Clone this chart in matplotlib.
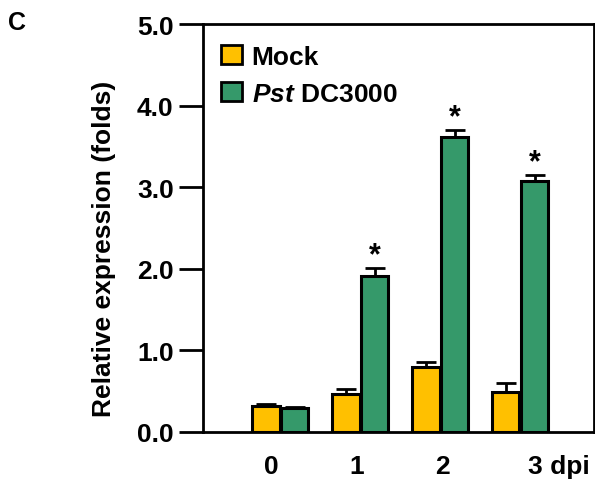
import numpy as np
import matplotlib
matplotlib.use('Agg')
from matplotlib import pyplot as plt
from matplotlib.patches import Patch

# data
days = ['0', '1', '2', '3 dpi']
mock = [0.32, 0.47, 0.80, 0.49]
mock_err = [0.02, 0.06, 0.06, 0.11]
pst = [0.29, 1.91, 3.61, 3.08]
pst_err = [0.02, 0.10, 0.09, 0.07]
signif = [False, True, True, True]

plt.rcParams['font.family'] = ['Liberation Sans', 'DejaVu Sans']
plt.rcParams['font.weight'] = 'bold'
plt.rcParams['mathtext.fontset'] = 'custom'
plt.rcParams['mathtext.bf'] = 'Liberation Sans:bold'
plt.rcParams['mathtext.bfit'] = 'Liberation Sans:bold:italic'
plt.rcParams['mathtext.it'] = 'Liberation Sans:italic'

yellow = '#FFC000'
green = '#35996A'
fs = 19

fig = plt.figure(figsize=(5.95, 4.81), dpi=100)
ax = fig.add_axes([0.341, 0.1, 0.657, 0.848])

x = np.arange(len(days))
w = 0.34
off = 0.18
ax.bar(x - off, mock, w, color=yellow, edgecolor='black', linewidth=2.2, zorder=3)
ax.bar(x + off, pst, w, color=green, edgecolor='black', linewidth=2.2, zorder=3)

ax.errorbar(x - off, mock, yerr=[np.zeros(len(mock)), mock_err], fmt='none',
            ecolor='black', elinewidth=2, capsize=7.5, capthick=2, zorder=2)
ax.errorbar(x + off, pst, yerr=[np.zeros(len(pst)), pst_err], fmt='none',
            ecolor='black', elinewidth=2, capsize=7.5, capthick=2, zorder=2)

for i in range(len(days)):
    if signif[i]:
        ax.text(x[i] + off, pst[i] + pst_err[i] + 0.16, '*', ha='center', va='center',
                fontsize=22, fontweight='bold')

ax.set_xlim(-0.97, 3.92)
ax.set_ylim(0, 5)
ax.set_yticks([0, 1, 2, 3, 4, 5])
ax.set_yticklabels(['0.0', '1.0', '2.0', '3.0', '4.0', '5.0'])
ax.set_xticks(x + np.array([-0.12, -0.05, 0.03, 0.48]))
ax.set_xticklabels(days)
ax.tick_params(axis='x', length=0, pad=16, labelsize=fs)
ax.tick_params(axis='y', length=17, width=2, direction='out', labelsize=fs, pad=4)
for s in ax.spines.values():
    s.set_linewidth(2)

ax.set_ylabel('Relative expression (folds)', fontsize=fs, fontweight='bold')
ax.yaxis.set_label_coords(-0.222, 0.45)

handles = [Patch(facecolor=yellow, edgecolor='black', linewidth=2),
           Patch(facecolor=green, edgecolor='black', linewidth=2)]
ax.legend(handles, ['Mock', r'$\mathbfit{Pst}$ DC3000'], loc='upper left',
          bbox_to_anchor=(0.0, 0.995), frameon=False, handlelength=0.8, handleheight=0.75,
          handletextpad=0.35, labelspacing=0.5, borderaxespad=0.3,
          prop={'weight': 'bold', 'size': fs})

fig.text(0.014, 0.952, 'C', fontsize=18, fontweight='bold', va='center')

fig.savefig('out.png', dpi=100)
